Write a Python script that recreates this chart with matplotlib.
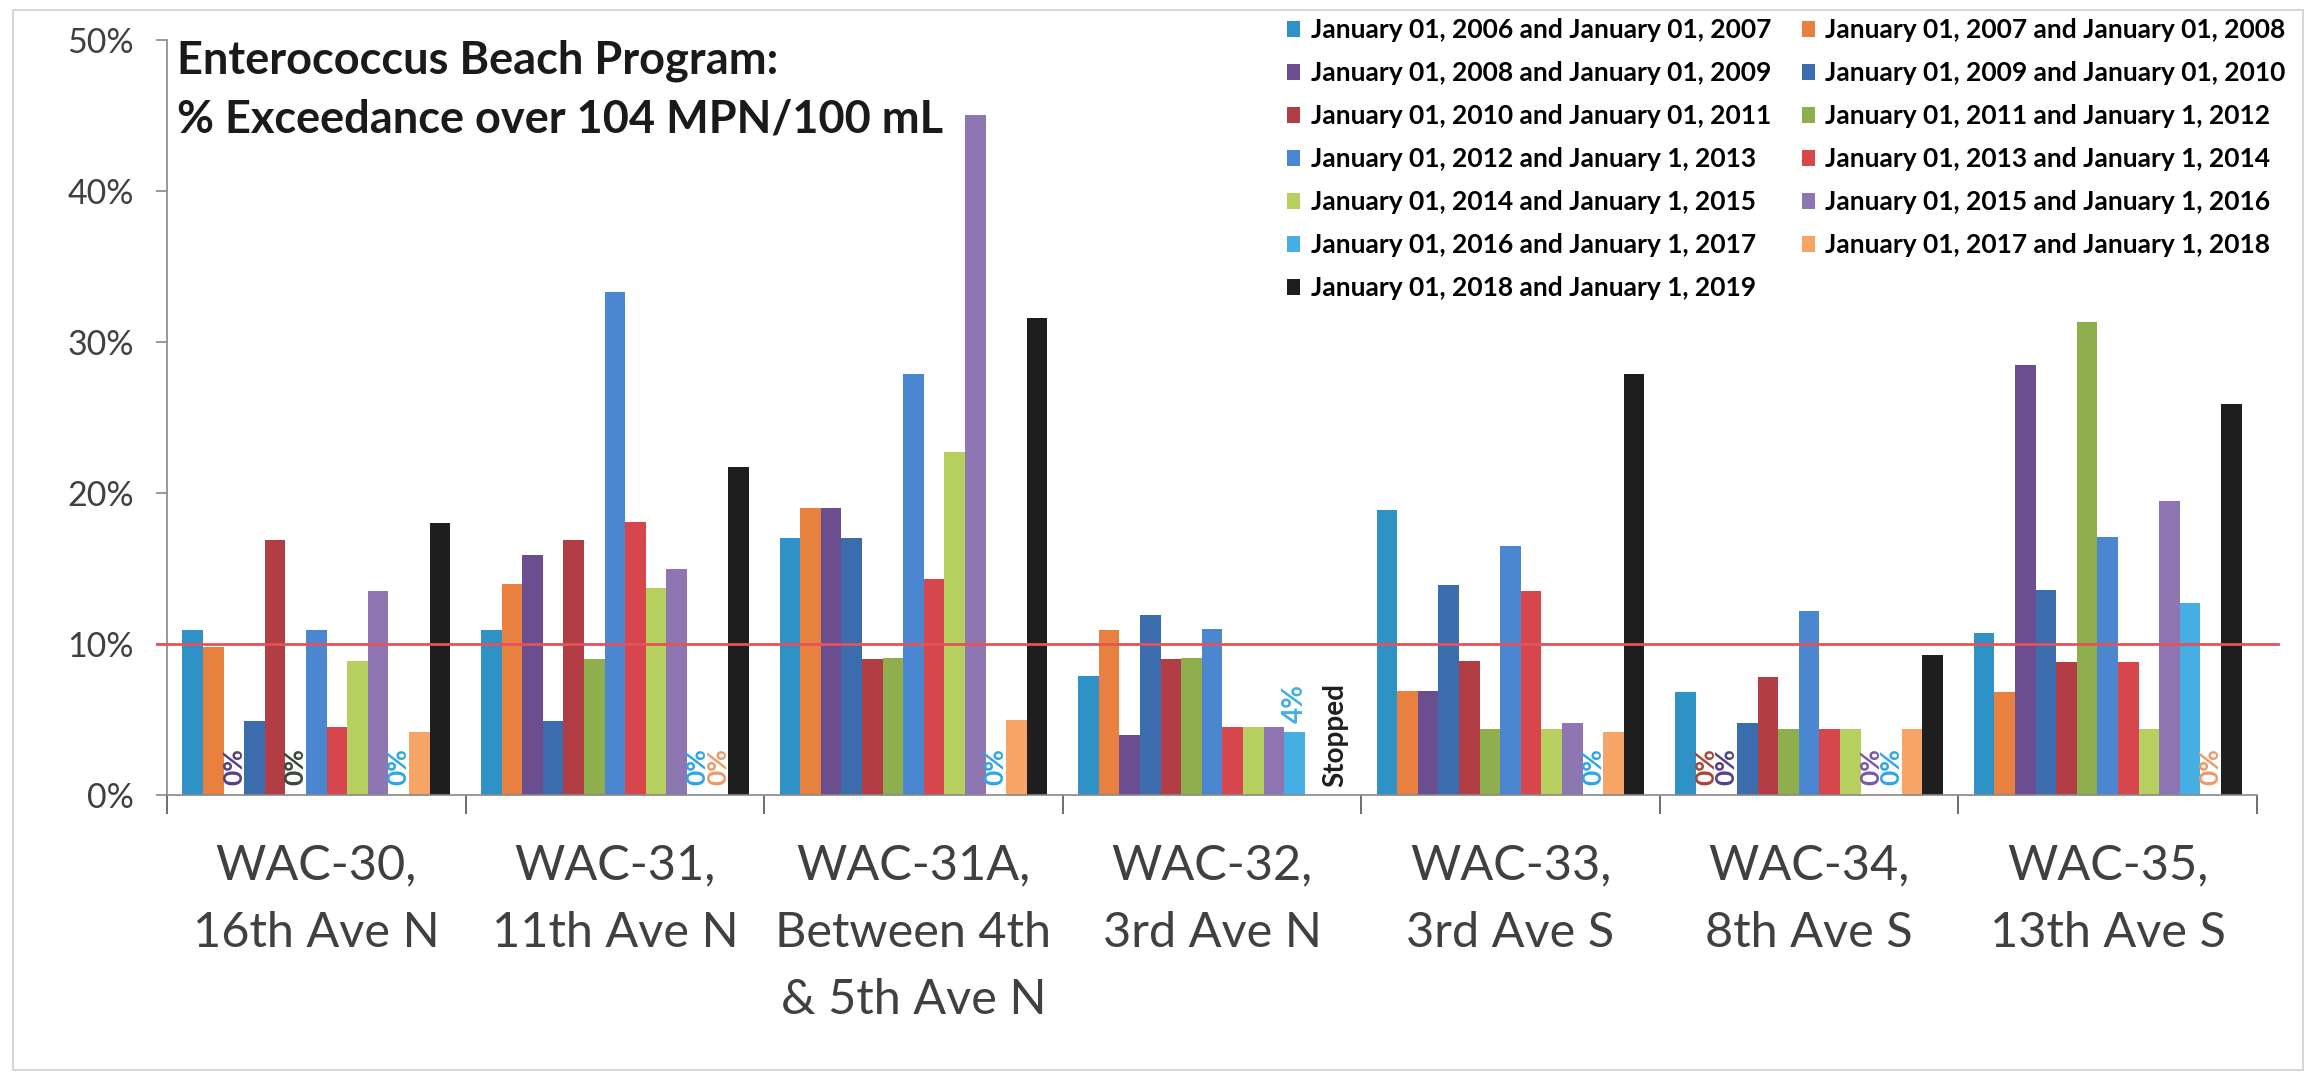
import numpy as np
import matplotlib
matplotlib.use("Agg")
import matplotlib.pyplot as plt
from matplotlib.patches import Rectangle
from matplotlib.ticker import FixedLocator, FuncFormatter

plt.rcParams['font.family'] = ['Lato', 'DejaVu Sans']

stations = ['WAC-30,\n16th Ave N', 'WAC-31,\n11th Ave N', 'WAC-31A,\nBetween 4th\n& 5th Ave N',
            'WAC-32,\n3rd Ave N', 'WAC-33,\n3rd Ave S', 'WAC-34,\n8th Ave S', 'WAC-35,\n13th Ave S']

periods = ['January 01, 2006 and January 01, 2007', 'January 01, 2007 and January 01, 2008',
           'January 01, 2008 and January 01, 2009', 'January 01, 2009 and January 01, 2010',
           'January 01, 2010 and January 01, 2011', 'January 01, 2011 and January 1, 2012',
           'January 01, 2012 and January 1, 2013', 'January 01, 2013 and January 1, 2014',
           'January 01, 2014 and January 1, 2015', 'January 01, 2015 and January 1, 2016',
           'January 01, 2016 and January 1, 2017', 'January 01, 2017 and January 1, 2018',
           'January 01, 2018 and January 1, 2019']

colors = ['#2E92C6', '#E8803F', '#6A4E8F', '#3B6CAE', '#B23D45', '#8FAE4E', '#4B87D0',
          '#D8464D', '#B6CF5E', '#8E76B2', '#45AEE4', '#F6A566', '#1E1E1E']

# colour of the "0%" label written where a period had no exceedance
zero_label_colors = ['#2E92C6', '#A8473A', '#54408A', '#3B6CAE', '#B23D45', '#3E463A', '#4B87D0',
                     '#D8464D', '#B6CF5E', '#7C56A8', '#2FA6E8', '#EE9A66', '#1E1E1E']

# % exceedance per period (2006 ... 2018), nan = not sampled
wac30 = [10.9, 9.8, 0, 4.9, 16.9, 0, 10.9, 4.5, 8.9, 13.5, 0, 4.2, 18.0]
wac31 = [10.9, 14.0, 15.9, 4.9, 16.9, 9.0, 33.3, 18.1, 13.7, 15.0, 0, 0, 21.7]
wac31a = [17.0, 19.0, 19.0, 17.0, 9.0, 9.1, 27.9, 14.3, 22.7, 45.0, 0, 5.0, 31.6]
wac32 = [7.9, 10.9, 4.0, 11.9, 9.0, 9.1, 11.0, 4.5, 4.5, 4.5, 4.2, np.nan, np.nan]
wac33 = [18.9, 6.9, 6.9, 13.9, 8.9, 4.4, 16.5, 13.5, 4.4, 4.8, 0, 4.2, 27.9]
wac34 = [6.8, 0, 0, 4.8, 7.8, 4.4, 12.2, 4.4, 4.4, 0, 0, 4.4, 9.3]
wac35 = [10.7, 6.8, 28.5, 13.6, 8.8, 31.3, 17.1, 8.8, 4.4, 19.5, 12.7, 0, 25.9]
values = np.array([wac30, wac31, wac31a, wac32, wac33, wac34, wac35])

# extra notes: (station, period) -> text
notes = {(3, 10): '4%', (3, 12): 'Stopped'}
note_colors = {(3, 10): '#45AEE4', (3, 12): '#1E1E1E'}

threshold = 10

fig = plt.figure(figsize=(23.17, 10.78), dpi=100)
ax = fig.add_axes([0.0721, 0.2625, 0.9020, 0.7004])

n = len(periods)
width = 0.069
x = np.arange(len(stations))
for j in range(n):
    h = np.nan_to_num(values[:, j])
    ax.bar(x + (j - (n - 1) / 2) * width, h, width, color=colors[j], label=periods[j],
           linewidth=0)

# value notes
for i in range(len(stations)):
    for j in range(n):
        xp = i + (j - (n - 1) / 2) * width
        v = values[i, j]
        if (i, j) in notes:
            y0 = 0 if np.isnan(v) else v
            ax.annotate(notes[(i, j)], (xp, y0), xytext=(0, 6), textcoords='offset points',
                        rotation=90, ha='center', va='bottom', fontsize=20,
                        fontweight='bold', color=note_colors[(i, j)])
        elif v == 0:
            ax.annotate('0%', (xp, 0), xytext=(0, 7), textcoords='offset points',
                        rotation=90, ha='center', va='bottom', fontsize=19,
                        fontweight='bold', color=zero_label_colors[j])

ax.axhline(threshold, xmin=-0.005, xmax=1.01, color='#E2535C', lw=2, clip_on=False, zorder=3)

ax.set_xlim(-0.5, len(stations) - 0.5)
ax.set_ylim(0, 50)
ax.yaxis.set_major_locator(FixedLocator(range(0, 51, 10)))
ax.yaxis.set_major_formatter(FuncFormatter(lambda v, p: f'{v:.0f}%'))
ax.tick_params(axis='y', direction='out', length=8, width=1.2, color='#888888',
               labelsize=24.5, labelcolor='#404040', pad=16)

ax.set_xticks(x)
ax.set_xticklabels(stations, fontsize=35, color='#404040', linespacing=1.65)
ax.xaxis.set_minor_locator(FixedLocator(np.arange(-0.5, len(stations), 1.0)))
ax.tick_params(axis='x', which='major', length=0, pad=35)
ax.tick_params(axis='x', which='minor', direction='out', length=14, width=1.2, color='#555555')

for side in ['top', 'right']:
    ax.spines[side].set_visible(False)
ax.spines['left'].set_color('#888888')
ax.spines['bottom'].set_color('#888888')
ax.spines['left'].set_linewidth(1.2)
ax.spines['bottom'].set_linewidth(1.2)

fig.text(0.0764, 0.9434, 'Enterococcus Beach Program:', fontsize=32.5, fontweight='bold',
         color='#1A1A1A', va='center', ha='left')
fig.text(0.0764, 0.8887, '% Exceedance over 104 MPN/100 mL', fontsize=32.5, fontweight='bold',
         color='#1A1A1A', va='center', ha='left')

handles, labels = ax.get_legend_handles_labels()
order = list(range(0, n, 2)) + list(range(1, n, 2))
fig.legend([handles[k] for k in order], [labels[k] for k in order], ncol=2,
           loc='upper left', bbox_to_anchor=(0.5555, 0.983), frameon=False,
           prop={'size': 19, 'weight': 'bold'}, handlelength=0.5, handleheight=0.6,
           handletextpad=0.4, columnspacing=1.15, labelspacing=0.72, borderpad=0,
           borderaxespad=0)

fig.patches.append(Rectangle((0.0056, 0.0074), 0.9884, 0.9833, transform=fig.transFigure,
                             fill=False, edgecolor='#D6D6D6', lw=1.5))

fig.savefig('out.png', dpi=100)
